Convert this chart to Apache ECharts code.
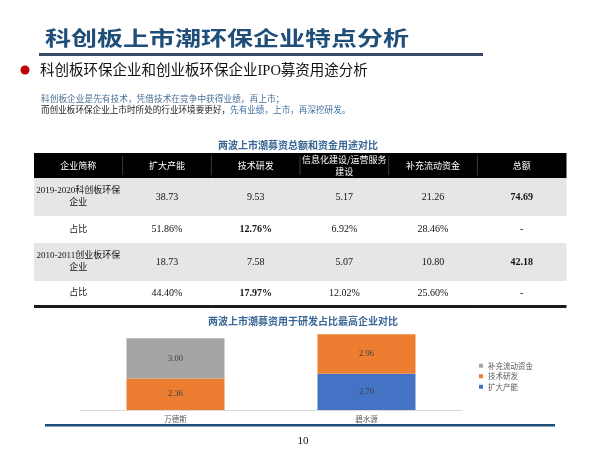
<!DOCTYPE html>
<html>
<head>
<meta charset="utf-8">
<script src="https://cdn.jsdelivr.net/npm/echarts@6/dist/echarts.min.js"></script>
<style>
html,body{margin:0;padding:0;background:#fff;}
#main{width:600px;height:450px;}
</style>
</head>
<body>
<div id="main"></div>
<script>
// ---------- Data ----------
const tableHeaders = ['企业简称', '扩大产能', '技术研发', '信息化建设/运营服务\n建设', '补充流动资金', '总额'];
const rowNames = ['2019-2020科创板环保\n企业', '占比', '2010-2011创业板环保\n企业', '占比'];
const kcbAmounts = [38.73, 9.53, 5.17, 21.26, 74.69];
const kcbShares = ['51.86%', '12.76%', '6.92%', '28.46%', '-'];
const cybAmounts = [18.73, 7.58, 5.07, 10.80, 42.18];
const cybShares = ['44.40%', '17.97%', '12.02%', '25.60%', '-'];
const boldCells = ['2-2', '4-2', '1-5', '3-5'];

const companies = ['万德斯', '碧水源'];
const expandCapacity = [null, 2.70];   // 扩大产能
const rdSpend = [2.36, 2.96];          // 技术研发
const workingCapital = [3.00, null];   // 补充流动资金
const legendOrder = ['补充流动资金', '技术研发', '扩大产能'];

// ---------- Layout (not data) ----------
const rowEdges = [0, 25, 63, 90, 128, 152];
const SERIF = "'Liberation Serif', 'Noto Sans CJK SC', serif";
const SANS = "'Noto Sans CJK SC', sans-serif";

function cellText(r, c) {
  if (r === 0) return tableHeaders[c];
  const dataRows = [null, kcbAmounts, kcbShares, cybAmounts, cybShares];
  if (c === 0) return rowNames[r - 1];
  const v = dataRows[r][c - 1];
  return typeof v === 'number' ? v.toFixed(2) : v;
}

const cells = [];
for (let r = 0; r < 5; r++) {
  for (let c = 0; c < 6; c++) {
    cells.push({ value: [c, r], name: cellText(r, c) });
  }
}

const chart = echarts.init(document.getElementById('main'), null, { renderer: 'canvas' });

const option = {
  backgroundColor: '#fff',
  animation: false,
  textStyle: { fontFamily: SANS },
  grid: [
    { left: 80, right: 138, top: 329.6, bottom: 40 },
    { left: 34, right: 34, top: 153, height: 152 }
  ],
  xAxis: [
    {
      gridIndex: 0, type: 'category', data: companies,
      axisLine: { show: true, lineStyle: { color: '#d9d9d9', width: 1 } },
      axisTick: { show: false },
      axisLabel: { fontSize: 7.5, color: '#595959', margin: 5, fontFamily: SANS }
    },
    {
      gridIndex: 1, type: 'category', data: tableHeaders, show: false
    }
  ],
  yAxis: [
    { gridIndex: 0, type: 'value', min: 0, max: 6, show: false },
    { gridIndex: 1, type: 'value', min: 0, max: 152, inverse: true, show: false }
  ],
  legend: {
    orient: 'vertical', left: 474, top: 357,
    data: legendOrder,
    icon: 'rect', itemWidth: 4, itemHeight: 4, itemGap: 3,
    textStyle: { fontSize: 7.5, color: '#595959', fontFamily: SANS }
  },
  series: [
    {
      name: '扩大产能', type: 'bar', stack: 'total', xAxisIndex: 0, yAxisIndex: 0,
      data: expandCapacity, barWidth: 98, itemStyle: { color: '#4472C4' },
      label: { show: true, position: 'inside', color: '#404040', fontSize: 8.5, fontFamily: SERIF,
        formatter: p => p.value == null ? '' : p.value.toFixed(2) }
    },
    {
      name: '技术研发', type: 'bar', stack: 'total', xAxisIndex: 0, yAxisIndex: 0,
      data: rdSpend, barWidth: 98, itemStyle: { color: '#ED7D31' },
      label: { show: true, position: 'inside', color: '#404040', fontSize: 8.5, fontFamily: SERIF,
        formatter: p => p.value == null ? '' : p.value.toFixed(2) }
    },
    {
      name: '补充流动资金', type: 'bar', stack: 'total', xAxisIndex: 0, yAxisIndex: 0,
      data: workingCapital, barWidth: 98, itemStyle: { color: '#A5A5A5' },
      label: { show: true, position: 'inside', color: '#404040', fontSize: 8.5, fontFamily: SERIF,
        formatter: p => p.value == null ? '' : p.value.toFixed(2) }
    },
    {
      name: 'table', type: 'custom', xAxisIndex: 1, yAxisIndex: 1,
      data: cells,
      renderItem: function (params, api) {
        const c = api.value(0), r = api.value(1);
        const cx = api.coord([c, 0])[0];
        const w = api.size([1, 0])[0];
        const y0 = api.coord([c, rowEdges[r]])[1];
        const y1 = api.coord([c, rowEdges[r + 1]])[1];
        const x0 = cx - w / 2;
        const fill = r === 0 ? '#000000' : (r % 2 === 1 ? '#e7e6e6' : '#ffffff');
        const txt = cells[params.dataIndex].name;
        const bold = boldCells.indexOf(r + '-' + c) >= 0;
        const children = [
          { type: 'rect', shape: { x: x0, y: y0, width: w + 0.5, height: y1 - y0 }, style: { fill: fill } },
          { type: 'text', x: cx, y: (y0 + y1) / 2,
            style: { text: txt, align: 'center', verticalAlign: 'middle',
              fill: r === 0 ? '#ffffff' : '#111111',
              fontSize: r === 0 ? 9 : (c === 0 ? 9 : 10), lineHeight: 12,
              fontWeight: bold ? 'bold' : 'normal',
              fontFamily: r === 0 ? SANS : SERIF } }
        ];
        if (r === 0 && c > 0) {
          children.push({ type: 'line', shape: { x1: x0, y1: y0 + 3, x2: x0, y2: y1 - 3 },
            style: { stroke: '#3a3a3a', lineWidth: 1 } });
        }
        if (r === 4) {
          children.push({ type: 'rect', shape: { x: x0, y: y1, width: w + 0.5, height: 3 },
            style: { fill: '#1a1a1a' } });
        }
        return { type: 'group', children: children };
      }
    }
  ],
  graphic: [
    { type: 'text', x: 45, y: 38, scaleX: 1.3,
      style: { text: '科创板上市潮环保企业特点分析', fontSize: 20, fontWeight: 'bold', fill: '#1f4e79',
        fontFamily: SANS, verticalAlign: 'middle' } },
    { type: 'rect', shape: { x: 39, y: 53, width: 444, height: 3 }, style: { fill: '#3b4b63' } },
    { type: 'circle', shape: { cx: 25, cy: 70, r: 4.5 }, style: { fill: '#c00000' } },
    { type: 'text', x: 40, y: 71,
      style: { text: '科创板环保企业和创业板环保企业IPO募资用途分析', fontSize: 14.5, fill: '#111111',
        fontFamily: SERIF, verticalAlign: 'middle' } },
    { type: 'text', x: 41, y: 99,
      style: { text: '科创板企业是先有技术，凭借技术在竞争中获得业绩，再上市；', fontSize: 8.7, fill: '#4a6f96',
        fontFamily: SANS, verticalAlign: 'middle' } },
    { type: 'text', x: 41, y: 110,
      style: { text: '{a|而创业板环保企业上市时所处的行业环境要更好，}{b|先有业绩，上市，再深挖研发。}',
        verticalAlign: 'middle', fontFamily: SANS,
        rich: { a: { fontSize: 8.6, fill: '#222222', fontFamily: SANS },
                b: { fontSize: 8.6, fill: '#3e6fa3', fontFamily: SANS } } } },
    { type: 'text', x: 298, y: 145,
      style: { text: '两波上市潮募资总额和资金用途对比', fontSize: 10, fontWeight: 'bold', fill: '#3a6795',
        fontFamily: SANS, align: 'center', verticalAlign: 'middle' } },
    { type: 'text', x: 303, y: 321,
      style: { text: '两波上市潮募资用于研发占比最高企业对比', fontSize: 10, fontWeight: 'bold', fill: '#3a6795',
        fontFamily: SANS, align: 'center', verticalAlign: 'middle' } },
    { type: 'rect', shape: { x: 45, y: 424, width: 510, height: 2.5 }, style: { fill: '#1f4e79' } },
    { type: 'text', x: 303, y: 441,
      style: { text: '10', fontSize: 11, fill: '#111111', fontFamily: SERIF, align: 'center', verticalAlign: 'middle' } }
  ]
};

chart.setOption(option);
</script>
</body>
</html>
